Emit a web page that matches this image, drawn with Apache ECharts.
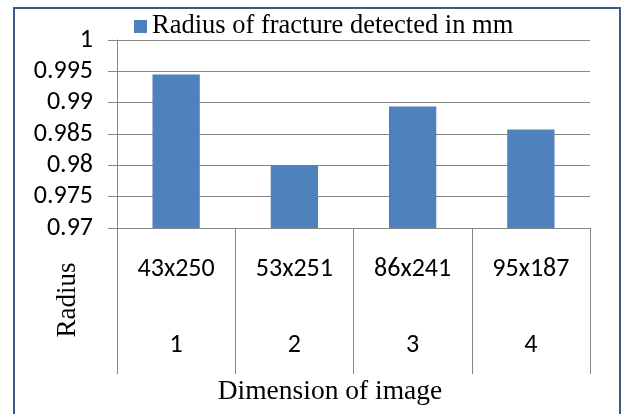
<!DOCTYPE html>
<html>
<head>
<meta charset="utf-8">
<script src="https://cdn.jsdelivr.net/npm/echarts@6/dist/echarts.min.js"></script>
<style>
    html, body { margin: 0; padding: 0; background: #fff; }
    #echarts-bar { width: 621px; height: 414px; }
</style>
</head>
<body>
<div id="echarts-bar"></div>
<script>
var dimNames = ['43x250', '53x251', '86x241', '95x187'];
var imgIndex = ['1', '2', '3', '4'];
var radiusVals = [0.9945, 0.9800, 0.9894, 0.9857];
var yTicks = { min: 0.97, max: 1, step: 0.005 };
var seriesName = 'Radius of fracture detected in mm';
var xTitle = 'Dimension of image';
var yTitle = 'Radius';

function radiusBarChart(id) {
    var myChart = echarts.init(document.getElementById(id));
    var serif = '"Liberation Serif", "Times New Roman", serif';
    var sans = 'Carlito, Calibri, Lato, sans-serif';

    var option = {
        animation: false,
        color: ['#4f81bd'],
        legend: {
            left: 134,
            top: 13,
            padding: 0,
            itemWidth: 13,
            itemHeight: 13,
            itemGap: 5,
            textStyle: {
                fontFamily: serif,
                fontSize: 26.5,
                color: '#000'
            },
            data: [{ name: seriesName, icon: 'rect' }]
        },
        grid: {
            left: 117,
            right: 31,
            top: 40,
            bottom: 186
        },
        xAxis: {
            type: 'category',
            data: dimNames,
            axisLine: { lineStyle: { color: '#868686' } },
            axisTick: {
                show: true,
                length: 146,
                lineStyle: { color: '#868686' }
            },
            axisLabel: {
                margin: 3,
                lineHeight: 76,
                fontFamily: sans,
                fontSize: 26,
                color: '#000',
                formatter: function (val, i) {
                    return val + '\n' + imgIndex[i];
                }
            }
        },
        yAxis: {
            type: 'value',
            min: yTicks.min,
            max: yTicks.max,
            interval: yTicks.step,
            axisLine: { show: true, lineStyle: { color: '#868686' } },
            axisTick: { show: true, length: 9, lineStyle: { color: '#868686' } },
            splitLine: { lineStyle: { color: '#868686' } },
            axisLabel: {
                margin: 24,
                fontFamily: sans,
                fontSize: 26,
                color: '#000',
                formatter: function (v) {
                    return String(parseFloat(v.toFixed(3)));
                }
            }
        },
        series: [{
            name: seriesName,
            type: 'bar',
            barWidth: '40%',
            data: radiusVals
        }],
        graphic: [{
            type: 'rect',
            shape: { x: 14, y: 8, width: 606, height: 420 },
            style: { fill: 'none', stroke: '#385d8a', lineWidth: 2 },
            silent: true
        }, {
            type: 'text',
            x: 68,
            y: 300,
            rotation: Math.PI / 2,
            style: {
                text: yTitle,
                fontFamily: serif,
                fontSize: 27,
                fill: '#000',
                align: 'center',
                verticalAlign: 'middle'
            }
        }, {
            type: 'text',
            x: 330,
            y: 392,
            style: {
                text: xTitle,
                fontFamily: serif,
                fontSize: 27.5,
                fill: '#000',
                align: 'center',
                verticalAlign: 'middle'
            }
        }]
    };
    myChart.setOption(option);
    return myChart;
}

var chart = radiusBarChart('echarts-bar');
</script>
</body>
</html>
